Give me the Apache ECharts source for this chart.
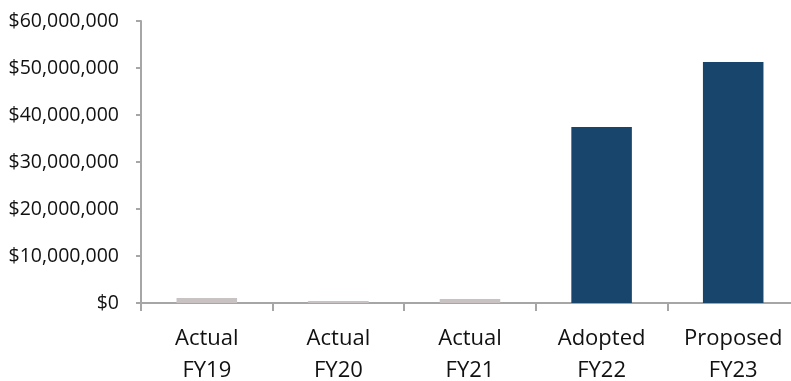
<!DOCTYPE html>
<html>
<head>
<meta charset="utf-8">
<script src="https://cdn.jsdelivr.net/npm/echarts@6/dist/echarts.min.js"></script>
<style>
  html, body { margin: 0; padding: 0; background: #fff; }
  #chart { width: 791px; height: 381px; }
</style>
</head>
<body>
<div id="chart"></div>
<script>
// Budget by fiscal year
const categories = ['Actual\nFY19', 'Actual\nFY20', 'Actual\nFY21', 'Adopted\nFY22', 'Proposed\nFY23'];
const amounts = [1060000, 450000, 850000, 37450000, 51300000];
const kinds = ['actual', 'actual', 'actual', 'budget', 'budget'];
const yTicks = [0, 10000000, 20000000, 30000000, 40000000, 50000000, 60000000];

const kindColors = { actual: '#C9C2C3', budget: '#17456B' };
const font = '"Open Sans", sans-serif';

const chart = echarts.init(document.getElementById('chart'));
chart.setOption({
  animation: false,
  // plot area runs a little past the right edge of the canvas
  grid: { left: 141, width: 658, top: 21, bottom: 78, containLabel: false, outerBoundsMode: 'none' },
  xAxis: {
    type: 'category',
    data: categories,
    axisLine: { lineStyle: { color: '#A6A6A6', width: 2 } },
    axisTick: { show: true, length: 8, lineStyle: { color: '#A6A6A6', width: 2 } },
    axisLabel: { color: '#111', fontFamily: font, fontSize: 22, lineHeight: 32, margin: 20 }
  },
  yAxis: {
    type: 'value',
    min: yTicks[0],
    max: yTicks[yTicks.length - 1],
    interval: yTicks[1] - yTicks[0],
    axisLine: { show: true, lineStyle: { color: '#A6A6A6', width: 2 } },
    axisTick: { show: true, length: 5, lineStyle: { color: '#A6A6A6', width: 2 } },
    splitLine: { show: false },
    axisLabel: {
      color: '#111', fontFamily: font, fontSize: 19.5, margin: 22,
      formatter: v => '$' + v.toLocaleString('en-US')
    }
  },
  series: [{
    type: 'bar',
    barWidth: '46%',
    data: amounts.map((v, i) => ({ value: v, itemStyle: { color: kindColors[kinds[i]] } }))
  }]
});
</script>
</body>
</html>
